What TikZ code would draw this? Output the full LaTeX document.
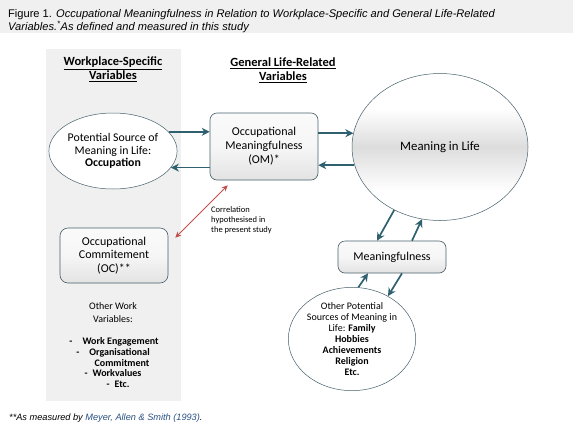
\documentclass[tikz,border=0pt]{standalone}
\usepackage{fontspec}
\setmainfont{Carlito}
\newfontfamily\arialf{Liberation Sans}
\usetikzlibrary{shapes.geometric,arrows.meta}
\definecolor{arrcol}{RGB}{46,96,112}
\definecolor{redcol}{RGB}{192,80,77}
\definecolor{bordcol}{RGB}{70,95,105}
\definecolor{panelcol}{RGB}{240,240,240}
\definecolor{linkcol}{RGB}{40,80,130}
\pgfdeclareverticalshading{milshade}{100bp}{color(0bp)=(white); color(35bp)=(white); color(50bp)=(gray!27); color(63bp)=(white); color(100bp)=(white)}
\tikzset{
  arr/.style={draw=arrcol, line width=1.7pt, -{Stealth[length=8pt,width=8pt]}},
  redarr/.style={draw=redcol, line width=0.8pt, {Stealth[length=6pt,width=5.5pt]}-{Stealth[length=6pt,width=5.5pt]}},
  boxst/.style={draw=bordcol, line width=0.6pt, rounded corners=7pt, top color=gray!4, bottom color=gray!22, middle color=gray!7, align=center, font=\fontsize{12}{14}\selectfont, inner sep=2pt},
  ellst/.style={ellipse, draw=bordcol, line width=0.5pt, align=center, inner sep=0pt},
  headst/.style={align=center, font=\fontsize{12.5}{14}\selectfont\bfseries},
  smalltext/.style={align=left, font=\fontsize{8.5}{10}\selectfont},
  listst/.style={align=center, font=\fontsize{10}{10.5}\selectfont\bfseries}
}
\begin{document}
\begin{tikzpicture}[x=1pt,y=-1pt]
\useasboundingbox (0,0) rectangle (580,431);
% title band
\fill[panelcol] (0,0) rectangle (573,33);
\node[anchor=base west, inner sep=0pt, font=\arialf\fontsize{11.1}{13}\selectfont] (t1) at (8,17) {Figure 1. \textit{Occupational Meaningfulness in Relation to Workplace-Specific and General Life-Related}};
\node[anchor=base west, inner sep=0pt, font=\arialf\fontsize{11.1}{13}\selectfont\itshape] (t2) at (8,30) {Variables.\textsuperscript{*}As defined and measured in this study};
% left panel
\fill[panelcol] (46,49) rectangle (181,401);
% headers
\node[headst] (h1) at (113,69) {\underline{Workplace-Specific}\\\underline{Variables}};
\node[headst] (h2) at (283,70) {\underline{General Life-Related}\\\underline{Variables}};
% nodes
\node[ellst, fill=white, minimum width=111pt, minimum height=76pt, font=\fontsize{11.8}{12.5}\selectfont] (src) at (113,151) {Potential Source of\\Meaning in Life:\\\textbf{Occupation}};
\node[boxst, minimum width=108pt, minimum height=67pt] (om) at (264,146.5) {Occupational\\Meaningfulness\\(OM)*};
\node[ellst, minimum width=176pt, minimum height=147pt, shading=milshade, font=\fontsize{12.8}{14}\selectfont] (mil) at (440,147) {Meaning in Life};
\node[boxst, minimum width=108pt, minimum height=32pt] (mfl) at (392,257) {Meaningfulness};
\node[ellst, fill=white, minimum width=110pt, minimum height=94pt, font=\fontsize{10}{11}\selectfont] (oth) at (352,339) {Other Potential\\Sources of Meaning in\\Life: \textbf{Family}\\\textbf{Hobbies}\\\textbf{Achievements}\\\textbf{Religion}\\\textbf{Etc.}};
\node[boxst, minimum width=108pt, minimum height=55pt, rounded corners=8pt, font=\fontsize{12}{13.5}\selectfont] (oc) at (114,255.5) {Occupational\\Commitement\\(OC)**};
\node[smalltext, anchor=north west, inner sep=0pt] (corr) at (211,206) {Correlation\\hypothesised in\\the present study};
\node[align=center, font=\fontsize{10}{13}\selectfont] (ow) at (113,313) {Other Work\\Variables:};
\node[listst] (l1) at (114,342) {-\quad Work Engagement};
\node[listst] (l2) at (113,352.5) {-\quad Organisational};
\node[listst] (l3) at (122,363) {Commitment};
\node[listst] (l4) at (113,373.5) {-\enspace Workvalues};
\node[listst] (l5) at (118,384) {-\enspace Etc.};
% footnote
\node[anchor=base west, inner sep=0pt, font=\arialf\fontsize{9.2}{10}\selectfont\itshape] (fn) at (9,420) {**As measured by \textcolor{linkcol}{Meyer, Allen \& Smith (1993)}.};
% connectors
\draw[arr] (src.19) -- (om.west |- src.19);
\draw[arr] (om.west |- src.-16) -- (src.-16);
\draw[arr] (om.east |- mil.171) -- (mil.171);
\draw[arr] (mil.192) -- (om.east |- mil.192);
\draw[arr] (mil.234) -- ([xshift=-15pt]mfl.north);
\draw[arr] ([xshift=20pt]mfl.north) -- (mil.256);
\draw[arr] (oth.83) -- ([xshift=-24pt]mfl.south);
\draw[arr] ([xshift=10pt]mfl.south) -- (oth.50);
\draw[redarr] ([shift={(7pt,-10pt)}]oc.north east) -- ([shift={(18pt,-5pt)}]om.south west);
\end{tikzpicture}
\end{document}
